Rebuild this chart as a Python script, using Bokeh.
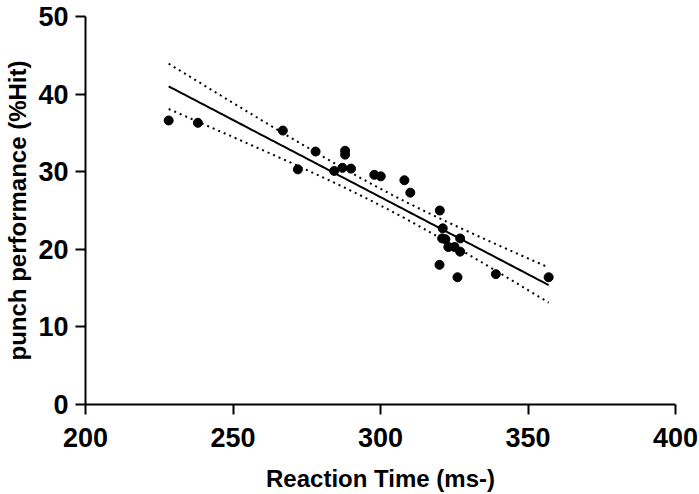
import numpy as np
from bokeh.plotting import figure
from bokeh.models import Range1d, FixedTicker
from bokeh.embed import file_html
from bokeh.resources import INLINE

# Data
reaction_time = [228.2, 238.1, 266.9, 272.0, 278.0, 284.3, 287.1, 288.0, 288.0, 290.0,
                 297.9, 300.1, 308.1, 310.1, 320.1, 321.1, 320.9, 322.0, 327.0, 323.0,
                 325.1, 327.0, 320.0, 326.1, 339.1, 357.0]
punch_hit = [36.6, 36.3, 35.3, 30.3, 32.6, 30.1, 30.5, 32.7, 32.2, 30.4,
             29.6, 29.4, 28.9, 27.3, 25.0, 22.7, 21.4, 21.3, 21.4, 20.3,
             20.3, 19.7, 18.0, 16.4, 16.8, 16.4]
x_ticks = [200, 250, 300, 350, 400]
y_ticks = [0, 10, 20, 30, 40, 50]
x_title = "Reaction Time (ms-)"
y_title = "punch performance (%Hit)"

# Linear regression with 95% confidence band (df = n - 2 = 24, t = 2.064)
x = np.array(reaction_time)
y = np.array(punch_hit)
n = len(x)
slope, intercept = np.polyfit(x, y, 1)
resid = y - (slope * x + intercept)
s = np.sqrt(np.sum(resid ** 2) / (n - 2))
sxx = np.sum((x - x.mean()) ** 2)
t_crit = 2.064
xs = np.linspace(x.min(), x.max(), 120)
fit = slope * xs + intercept
half = t_crit * s * np.sqrt(1.0 / n + (xs - x.mean()) ** 2 / sxx)

p = figure(width=699, height=494, output_backend="svg", toolbar_location=None,
           x_range=Range1d(200, 400), y_range=Range1d(0, 50),
           min_border_left=85, min_border_right=24, min_border_top=16,
           min_border_bottom=90)
p.outline_line_color = None
p.xgrid.grid_line_color = None
p.ygrid.grid_line_color = None
p.background_fill_color = "white"
p.border_fill_color = "white"

p.line(xs, fit, line_color="black", line_width=2)
p.line(xs, fit + half, line_color="black", line_width=2, line_dash="2 4")
p.line(xs, fit - half, line_color="black", line_width=2, line_dash="2 4")
p.scatter(x, y, size=9, fill_color="black", line_color="black", marker="circle")

p.xaxis.ticker = FixedTicker(ticks=x_ticks)
p.yaxis.ticker = FixedTicker(ticks=y_ticks)
p.xaxis.axis_label = x_title
p.yaxis.axis_label = y_title

for ax in (p.xaxis, p.yaxis):
    ax.axis_line_width = 2
    ax.axis_line_color = "black"
    ax.major_tick_line_width = 2
    ax.major_tick_line_color = "black"
    ax.major_tick_out = 10
    ax.major_tick_in = 0
    ax.minor_tick_line_color = None
    ax.major_label_text_font = "Liberation Sans"
    ax.major_label_text_font_style = "bold"
    ax.major_label_text_font_size = "27px"
    ax.major_label_text_color = "black"
    ax.axis_label_text_font = "Liberation Sans"
    ax.axis_label_text_font_style = "bold"
    ax.axis_label_text_font_size = "24px"
    ax.axis_label_text_color = "black"

p.xaxis.major_label_standoff = 13
p.xaxis.axis_label_standoff = 15
p.yaxis.major_label_standoff = 7
p.yaxis.axis_label_standoff = 4

open("out.html", "w").write(file_html(p, INLINE))
